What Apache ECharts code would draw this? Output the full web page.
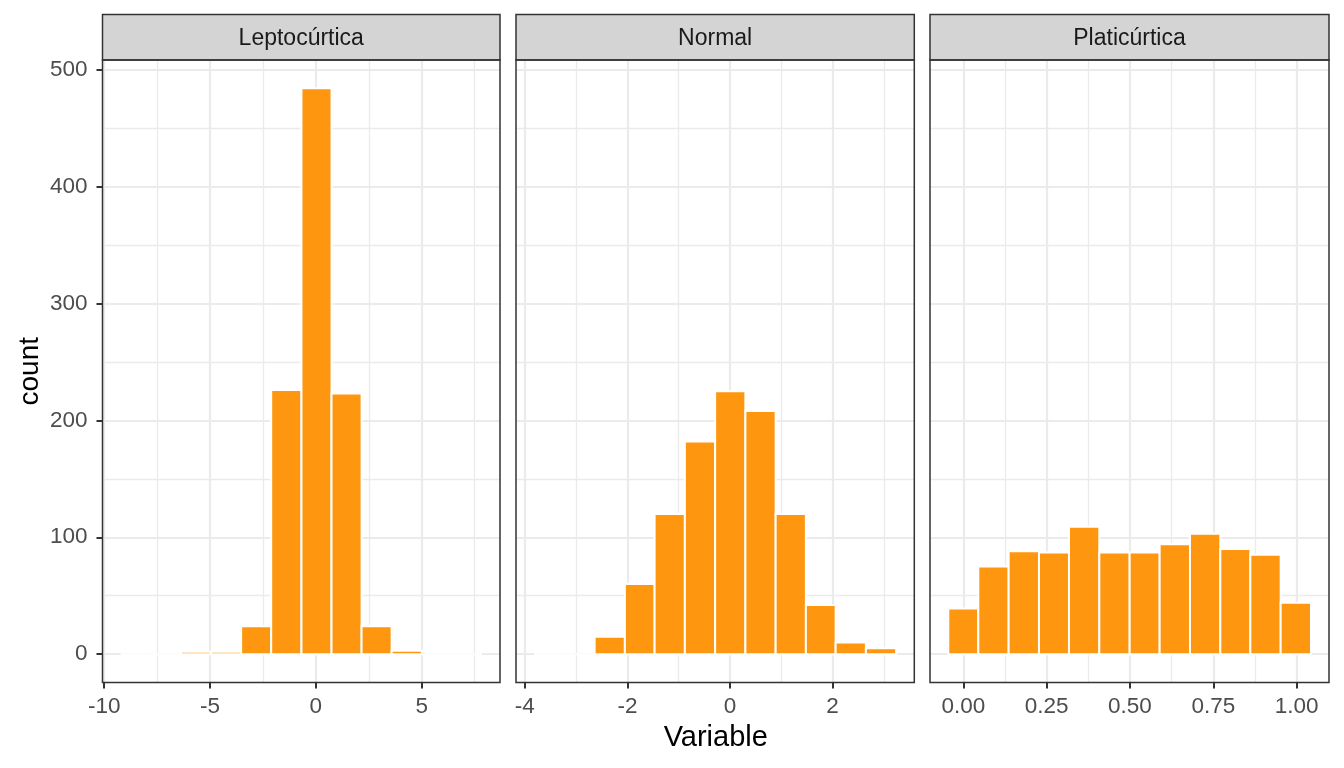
<!DOCTYPE html>
<html>
<head>
<meta charset="utf-8">
<title>Curtosis - histogramas</title>
<script src="https://cdn.jsdelivr.net/npm/echarts@6/dist/echarts.min.js"></script>
<style>
  html, body { margin: 0; padding: 0; background: #fff; }
  #chart { width: 1344px; height: 768px; }
</style>
</head>
<body>
<div id="chart"></div>
<script>
// nombres de los paneles
const panelNames = ['Leptocúrtica', 'Normal', 'Platicúrtica'];

// bordes de los 12 bins de cada panel y sus conteos
const lepEdges = [-9.22, -7.80, -6.37, -4.95, -3.53, -2.11, -0.68, 0.74, 2.16, 3.58, 5.01, 6.43, 7.85];
const lepCounts = [0, 0, 2, 2, 24, 226, 484, 223, 24, 3, 0, 0];

const normEdges = [-3.82, -3.23, -2.64, -2.05, -1.47, -0.88, -0.29, 0.30, 0.89, 1.48, 2.06, 2.65, 3.24];
const normCounts = [0, 0, 15, 60, 120, 182, 225, 208, 120, 42, 10, 5];

const platEdges = [-0.045, 0.045, 0.136, 0.227, 0.317, 0.408, 0.499, 0.589, 0.680, 0.771, 0.861, 0.952, 1.043];
const platCounts = [39, 75, 88, 87, 109, 87, 87, 94, 103, 90, 85, 44];

// marcas de los ejes (mayores y menores)
const lepTicks = [-10, -5, 0, 5];
const lepMinor = [-7.5, -2.5, 2.5, 7.5];
const normTicks = [-4, -2, 0, 2];
const normMinor = [-3, -1, 1, 3];
const platTicks = [0, 0.25, 0.5, 0.75, 1];
const platMinor = [0.125, 0.375, 0.625, 0.875];
const countTicks = [0, 100, 200, 300, 400, 500];
const countMinor = [50, 150, 250, 350, 450];

// limites de los ejes (con la expansion de ggplot)
const lepRange = [-10.08, 8.70];
const normRange = [-4.173, 3.594];
const platRange = [-0.0999, 1.097];
const countRange = [-24.2, 508.2];

const barColor = '#fe970f';
const gridColor = '#ebebeb';
const borderColor = '#333333';
const fontFamily = '"Liberation Sans", Arial, sans-serif';

// posiciones de los paneles en pixeles
const panelBox = [
  { left: 102.5, right: 500 },
  { left: 516, right: 914.3 },
  { left: 930, right: 1329 }
];
const panelTop = 60;
const panelBottom = 682.5;
const stripTop = 14.5;

const panels = [
  { edges: lepEdges, counts: lepCounts, ticks: lepTicks, minor: lepMinor, range: lepRange, fmt: v => String(v) },
  { edges: normEdges, counts: normCounts, ticks: normTicks, minor: normMinor, range: normRange, fmt: v => String(v) },
  { edges: platEdges, counts: platCounts, ticks: platTicks, minor: platMinor, range: platRange, fmt: v => v.toFixed(2) }
];

const chart = echarts.init(document.getElementById('chart'));

// dibuja cada bin como rectangulo usando las escalas del eje
function renderBin(params, api) {
  const topLeft = api.coord([api.value(0), api.value(2)]);
  const bottomRight = api.coord([api.value(1), 0]);
  return {
    type: 'rect',
    shape: {
      x: topLeft[0],
      y: topLeft[1],
      width: bottomRight[0] - topLeft[0],
      height: bottomRight[1] - topLeft[1]
    },
    style: { fill: barColor, stroke: '#ffffff', lineWidth: 2 }
  };
}

const grids = [];
const xAxes = [];
const yAxes = [];
const series = [];
const graphics = [];

panels.forEach((p, i) => {
  const box = panelBox[i];
  grids.push({
    left: box.left,
    top: panelTop,
    width: box.right - box.left,
    height: panelBottom - panelTop,
    show: false
  });
  // eje x principal (etiquetas, marcas y lineas mayores)
  xAxes.push({
    type: 'value',
    gridIndex: i,
    position: 'bottom',
    min: p.range[0],
    max: p.range[1],
    z: 1,
    axisLine: { show: false, onZero: false },
    axisTick: { show: true, inside: false, length: 6, customValues: p.ticks, lineStyle: { color: borderColor, width: 2 } },
    axisLabel: {
      customValues: p.ticks,
      formatter: p.fmt,
      color: '#4d4d4d',
      fontSize: 22.5,
      fontFamily: fontFamily,
      margin: 13
    },
    splitLine: { show: true, lineStyle: { color: gridColor, width: 2.2 } }
  });
  // eje y principal
  yAxes.push({
    type: 'value',
    gridIndex: i,
    position: 'left',
    min: countRange[0],
    max: countRange[1],
    z: 1,
    axisLine: { show: false, onZero: false },
    axisTick: { show: i === 0, inside: false, length: 6, customValues: countTicks, lineStyle: { color: borderColor, width: 2 } },
    axisLabel: {
      show: i === 0,
      customValues: countTicks,
      color: '#4d4d4d',
      fontSize: 22.5,
      fontFamily: fontFamily,
      margin: 15
    },
    splitLine: { show: true, lineStyle: { color: gridColor, width: 2.2 } }
  });

  const data = p.counts.map((c, k) => [p.edges[k], p.edges[k + 1], c]);
  series.push({
    type: 'custom',
    name: panelNames[i],
    xAxisIndex: i,
    yAxisIndex: i,
    z: 3,
    renderItem: renderBin,
    encode: { x: [0, 1], y: 2 },
    data: data
  });

  // tira del titulo del panel
  graphics.push({
    type: 'rect',
    shape: { x: box.left, y: stripTop, width: box.right - box.left, height: panelTop - stripTop },
    style: { fill: '#d4d4d4', stroke: borderColor, lineWidth: 1.5 },
    z: 100
  });
  graphics.push({
    type: 'text',
    x: (box.left + box.right) / 2,
    y: (stripTop + panelTop) / 2 + 1,
    style: {
      text: panelNames[i],
      fill: '#1a1a1a',
      font: '23px ' + fontFamily,
      textAlign: 'center',
      textVerticalAlign: 'middle'
    },
    z: 101
  });
  // borde del panel
  graphics.push({
    type: 'rect',
    shape: { x: box.left, y: panelTop, width: box.right - box.left, height: panelBottom - panelTop },
    style: { fill: 'none', stroke: borderColor, lineWidth: 1.5 },
    z: 100
  });
});

// ejes secundarios solo para las lineas menores
panels.forEach((p, i) => {
  xAxes.push({
    type: 'value',
    gridIndex: i,
    position: 'bottom',
    min: p.range[0],
    max: p.range[1],
    z: 0,
    axisLine: { show: false, onZero: false },
    axisTick: { show: false, customValues: p.minor },
    axisLabel: { show: false },
    splitLine: { show: true, lineStyle: { color: gridColor, width: 1.3 } }
  });
  yAxes.push({
    type: 'value',
    gridIndex: i,
    position: 'left',
    min: countRange[0],
    max: countRange[1],
    z: 0,
    axisLine: { show: false, onZero: false },
    axisTick: { show: false, customValues: countMinor },
    axisLabel: { show: false },
    splitLine: { show: true, lineStyle: { color: gridColor, width: 1.3 } }
  });
});

// titulos de los ejes
graphics.push({
  type: 'text',
  x: (panelBox[0].left + panelBox[2].right) / 2,
  y: 738,
  style: { text: 'Variable', fill: '#000', font: '29px ' + fontFamily, textAlign: 'center', textVerticalAlign: 'middle' },
  z: 101
});
graphics.push({
  type: 'text',
  x: 30,
  y: (panelTop + panelBottom) / 2,
  rotation: Math.PI / 2,
  style: { text: 'count', fill: '#000', font: '28px ' + fontFamily, textAlign: 'center', textVerticalAlign: 'middle' },
  z: 101
});

chart.setOption({
  animation: false,
  backgroundColor: '#ffffff',
  grid: grids,
  xAxis: xAxes,
  yAxis: yAxes,
  series: series,
  graphic: graphics
});
</script>
</body>
</html>
